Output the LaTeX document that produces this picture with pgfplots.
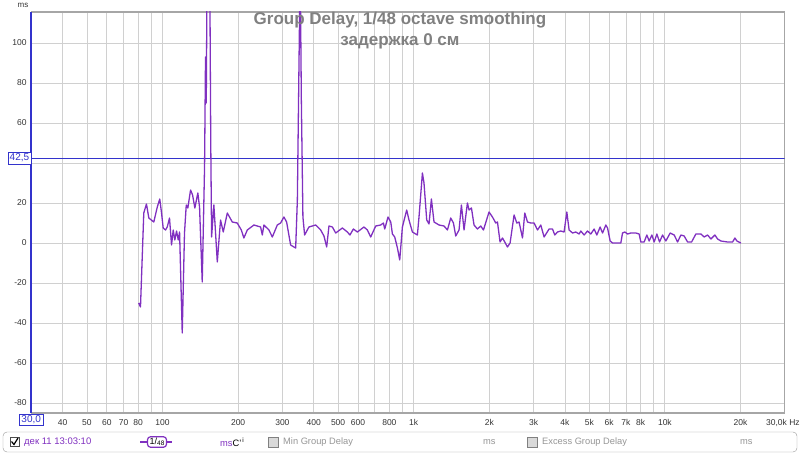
\documentclass[border=0pt]{standalone}
\usepackage{pgfplots}
\pgfplotsset{compat=1.18}
\usepackage{fontspec}
\setmainfont{Liberation Sans}
\definecolor{gd}{RGB}{128,48,192}
\definecolor{gridc}{RGB}{208,208,208}
\definecolor{cur}{RGB}{51,51,204}
\definecolor{tgray}{RGB}{128,128,128}
\definecolor{lgray}{RGB}{150,150,150}
\begin{document}
\begin{tikzpicture}[x=1pt,y=1pt]
\path[use as bounding box] (0,0) rectangle (800,453);
\begin{axis}[at={(31.2pt,40pt)}, anchor=south west, scale only axis,
  width=753.5pt, height=401pt,
  xmode=log, xmin=30, xmax=30000, ymin=-85, ymax=115.5,
  axis line style={draw=black!35, line width=1.2pt},
  grid=major, major grid style={draw=gridc, line width=0.8pt},
  major tick length=0pt, minor tick length=0pt,
  xtick={40,50,60,70,80,90,100,200,300,400,500,600,700,800,900,1000,2000,3000,4000,5000,6000,7000,8000,9000,10000,20000},
  xticklabels={40,50,60,70,80,,100,200,300,400,500,600,,800,,1k,2k,3k,4k,5k,6k,7k,8k,,10k,20k},
  extra x ticks={30000}, extra x tick labels={\llap{30{,}0k Hz}},
  extra x tick style={grid=none, xticklabel style={xshift=15pt}},
  ytick={-80,-60,-40,-20,0,20,40,60,80,100},
  ticklabel style={font=\fontsize{8.5}{10}\selectfont, text=black!80},
  xticklabel style={yshift=-3pt},
  yticklabel style={xshift=-1pt},
  /pgf/number format/assume math mode=true,
  clip mode=individual,
]
\addplot[cur, line width=0.8pt] coordinates {(30,42.5) (30000,42.5)};
\addplot[gd, line width=1.3pt, line join=round] coordinates {
(80.4,-30) (81.7,-32) (84.2,15) (86.3,19.5) (88.2,12.5) (90.2,11.5) (92.3,10.5) (95.3,18) (97.5,22) (99.1,15)
(100.6,7.5) (102.8,6.5) (104.4,8) (106.6,12.5) (108.6,-1) (110.3,6.5) (111.9,1.5) (113.7,6) (115.5,1.5) (116.9,5.5)
(119.8,-45) (122.3,5) (124.3,19) (126.1,17.5) (129.3,26.5) (131.7,24) (134.5,17.5) (138.2,25) (140.4,18) (143.9,-19.5)
(147.0,38) (148.3,93) (149.3,70) (150.7,150) (152.5,150) (154.3,130) (155.6,50) (156.8,3)
(160.1,19) (162.6,5) (165.2,-9.5) (170.2,11.5) (174.5,5.5) (181.1,15) (189.6,10.5) (198.4,10) (205.9,6.5) (210.8,2.5)
(217.5,6.5) (231.1,9) (245.7,8) (249.6,4) (253.3,9) (265.2,6.5) (273.6,3) (286.4,9) (295.2,10) (304.3,13)
(311.9,10.5) (323.6,-1) (333.6,-2) (338.9,-2.5) (344.2,21.5) (350.6,105) (353.2,140) (357.0,71.5) (362.2,13) (367.9,4)
(382.7,8) (407.1,9) (426.2,6.5) (439.3,3.5) (450.3,-2) (459.9,8.5) (474.5,8) (489.1,5) (519.9,7.5) (544.4,5.5)
(557.5,4) (575.2,7) (596.7,5.5) (633.9,8) (654.0,6.5) (674.2,3) (706.0,8.5) (739.1,9) (757.7,10) (766.8,7)
(790.3,13) (810.2,10.5) (822.8,4.5) (840.4,3) (861.5,-2.5) (879.8,-8.5) (901.5,8) (937.8,16.5) (957.8,11.5) (988.1,5.5)
(1034.4,4) (1049.8,13) (1083.1,35) (1099.0,30) (1126.7,11.5) (1150.7,9.5) (1176.2,22) (1204.7,10.5) (1261.2,9) (1320.4,8.5)
(1362.4,6.5) (1404.2,12.5) (1439.6,10) (1470.1,3.5) (1515.4,6.5) (1548.8,19) (1586.3,6.5) (1636.5,20) (1660.8,16.5) (1697.9,17.5)
(1738.7,9) (1794.0,7) (1849.0,8.5) (1895.5,6.5) (1995.3,15.5) (2058.4,13) (2121.9,10) (2155.4,10.5) (2207.1,0.5) (2256.4,2.5)
(2304.3,0.5) (2362.3,-2) (2419.6,0) (2509.8,14) (2572.9,10) (2627.4,10.5) (2711.0,2.5) (2768.4,15) (2838.1,10.5) (2925.1,10)
(3015.2,10) (3110.5,6.5) (3206.3,9) (3304.5,3) (3459.4,7) (3569.4,7) (3645.8,4) (3736.8,5.5) (3852.1,6) (3970.2,5.5)
(4070.2,15.5) (4156.4,6.5) (4288.6,5) (4420.0,5.5) (4556.4,4.5) (4627.3,6) (4769.9,4) (4920.5,6) (5072.3,4.5) (5228.0,7)
(5359.6,4) (5524.2,8) (5647.8,5) (5821.0,9) (5912.8,7.5) (6056.2,1) (6190.1,0) (6678.1,0) (6783.5,5) (6927.3,5.5)
(7101.7,4.5) (7319.3,5) (7664.2,5) (7899.1,4.5) (8023.7,0.5) (8269.4,0.5) (8477.6,4) (8659.0,1) (8876.1,4) (9066.1,0.5)
(9292.2,4.5) (9526.1,0.5) (9790.8,4) (10092,1) (10498,5) (10890,4) (11235,0.5) (11580,4) (11937,3.5) (12313,0.5)
(12775,0.5) (13288,4.5) (13912,4.5) (14341,3) (14795,4) (15251,2) (15822,4) (16218,2) (16716,1) (17775,0.5)
(18608,0.5) (19006,2.5) (19360,1) (20082,0)
};
\draw[cur, line width=1.5pt] (rel axis cs:0,0) -- (rel axis cs:0,1);
\node[draw=cur, fill=white, text=cur, inner sep=1.8pt, anchor=east, font=\fontsize{10}{11}\selectfont] at (axis cs:30,42.5) {42,5};
\node[draw=cur, fill=white, text=cur, inner sep=1.8pt, anchor=north, yshift=-0.5pt, font=\fontsize{10}{11}\selectfont] at (axis cs:30,-85) {30,0};
\end{axis}
\node[text=black!80, font=\fontsize{8}{10}\selectfont] at (23,448) {ms};
\node[text=tgray, font=\bfseries\fontsize{17}{19}\selectfont] at (400,433) {Group Delay, 1/48 octave smoothing};
\node[text=tgray, font=\bfseries\fontsize{17}{19}\selectfont] at (400,412) {задержка 0 см};
% legend strip
\draw[rounded corners=4pt, black!40, fill=white] (3,1) rectangle (797,21);
\draw[black!70, fill=white] (10,7) rectangle (19,16);
\draw[black, line width=1.2pt] (11.5,11.5) -- (14,8.5) -- (18,15);
\node[anchor=west, text=gd, font=\fontsize{9.5}{11}\selectfont, inner sep=0pt] at (24,11) {дек 11 13:03:10};
\draw[gd, line width=1.2pt] (140,11) -- (172,11);
\node[draw=gd, line width=1.2pt, rounded corners=3pt, fill=white, text=black, font=\fontsize{9}{10}\selectfont, inner sep=1.2pt, minimum width=19pt] at (157,11) {1/\raisebox{-1.5pt}{\fontsize{6.5}{7}\selectfont 48}};
\node[anchor=west, inner sep=0pt, font=\fontsize{9.3}{11}\selectfont] at (220,11) {\textcolor{gd}{ms}C'\textsuperscript{\,i}};
\draw[black!50, fill=black!15] (268,6) rectangle (278,16);
\node[anchor=west, text=lgray, font=\fontsize{9.3}{11}\selectfont, inner sep=0pt] at (283,11) {Min Group Delay};
\node[anchor=west, text=lgray, font=\fontsize{9.3}{11}\selectfont, inner sep=0pt] at (483,11) {ms};
\draw[black!50, fill=black!15] (527,6) rectangle (537,16);
\node[anchor=west, text=lgray, font=\fontsize{9.3}{11}\selectfont, inner sep=0pt] at (542,11) {Excess Group Delay};
\node[anchor=west, text=lgray, font=\fontsize{9.3}{11}\selectfont, inner sep=0pt] at (740,11) {ms};
\end{tikzpicture}
\end{document}
